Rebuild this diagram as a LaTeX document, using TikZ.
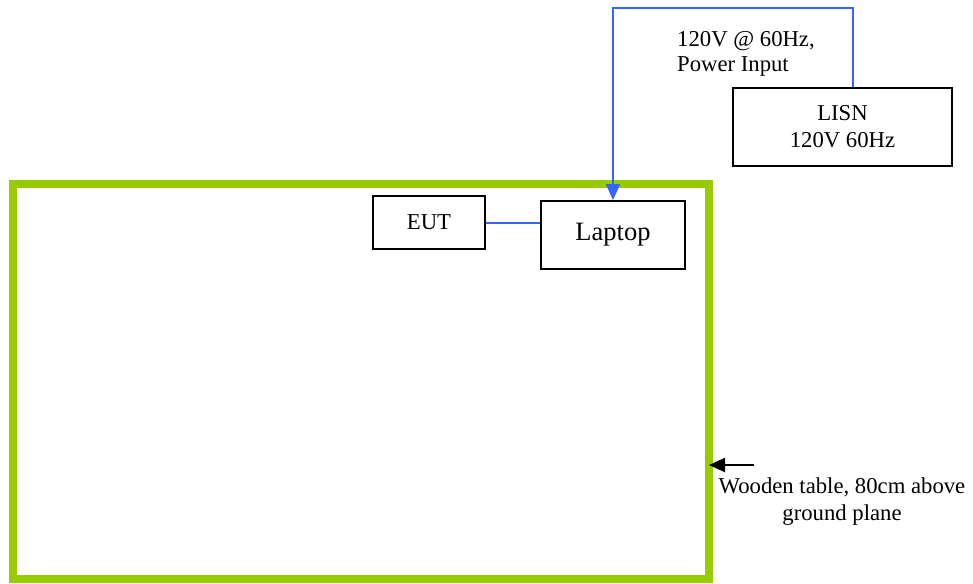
\documentclass[tikz,border=0pt]{standalone}
\usepackage{fontspec}
\setmainfont{Liberation Serif}
\usetikzlibrary{arrows.meta}
\definecolor{tablegreen}{RGB}{153,204,0}
\definecolor{wireblue}{RGB}{51,102,255}

\begin{document}
\begin{tikzpicture}[x=1pt,y=-1pt]
\tikzstyle{every node}=[font=\fontsize{22.7}{27}\selectfont]
\tikzstyle{box}=[draw,line width=1.8,align=center,inner sep=0]
\tikzstyle{wire}=[draw=wireblue,line width=2]
\useasboundingbox (0,0) rectangle (973,583);
\node (table) [draw=tablegreen,line width=8,outer sep=0,minimum width=696,minimum height=395] at (361,381.5) {};
\node (lisn) [box,minimum width=219,minimum height=78] at (842.5,127) {LISN\\120V 60Hz};
\node (eut) [box,minimum width=112,minimum height=53] at (429,222.5) {EUT};
\node (laptop) [box,minimum width=144,minimum height=68,font=\fontsize{26.5}{30}\selectfont] at (613,235) {\raisebox{5pt}{Laptop}};
\node (power) [anchor=north west,inner sep=0,align=left,font=\fontsize{22.7}{25}\selectfont] at (677,31) {120V @ 60Hz,\\Power Input};
\node (tablelabel) [anchor=north,inner sep=0,align=center] at (842,477.5) {Wooden table, 80cm above\\ground plane};
\coordinate (tail) at (754,465);
\draw[wire] (eut) -- (eut -| laptop.west);
\draw[wire,-{Triangle[length=16pt,width=14pt]}] ([xshift=10.5]lisn.north) -- ++(0,-79) -| (laptop.north);
\draw[line width=2.2,-{Triangle[length=16pt,width=14pt]}] (tail) -- (tail -| table.east);
\end{tikzpicture}
\end{document}
